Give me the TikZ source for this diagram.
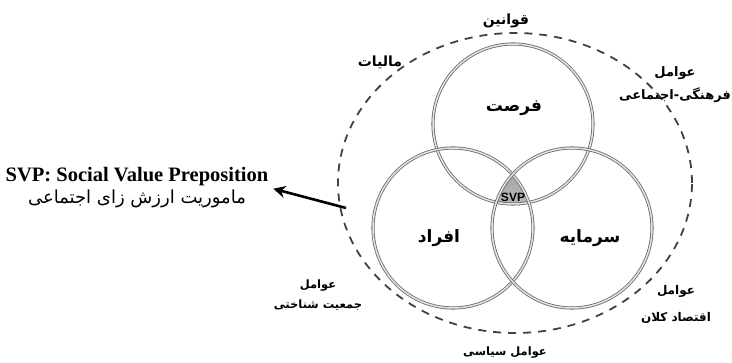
\documentclass[tikz,border=0pt]{standalone}
\usepackage{fontspec}
\setmainfont{Liberation Serif}
\newfontfamily\fa[Script=Arabic]{DejaVu Sans}
\newfontfamily\lsans{Liberation Sans}
\TeXXeTstate=1
\usepackage{tikz}
\usetikzlibrary{arrows.meta}
\definecolor{ring}{RGB}{105, 105, 110}
\definecolor{dash}{RGB}{65, 65, 65}
\tikzset{
  venn/.style={draw=ring, double=gray!22, double distance=1.5pt, line width=0.8pt},
  outer/.style={draw=dash, line width=1.8pt, dash pattern=on 8pt off 7pt},
  lbl/.style={font=\fa\bfseries\fontsize{#1}{#1}\selectfont, align=center, inner sep=1pt},
  lbl/.default=12,
}

\begin{document}
\begin{tikzpicture}[x=1pt, y=-1pt]
  \useasboundingbox (0, 0) rectangle (732, 363);

  % Centres
  \coordinate (top) at (513, 124);
  \coordinate (left) at (453, 228);
  \coordinate (right) at (572, 228);
  \coordinate (mid) at (515, 183);

  % SVP core
  \begin{scope}
    \clip (top) circle [radius=80pt];
    \clip (left) circle [radius=80pt];
    \shade [top color=gray!80, bottom color=gray!15] (right) circle [radius=80pt];
  \end{scope}

  % Circles
  \draw [venn] (top) circle [radius=80pt];
  \draw [venn] (left) circle [radius=80pt];
  \draw [venn] (right) circle [radius=80pt];

  % Environment
  \draw [outer] (mid) ellipse [x radius=177pt, y radius=150pt];

  \node [lbl=17] (forsat) at (514, 108) {\beginR فرصت\endR};
  \node [lbl=17] (afrad) at (439, 238) {\beginR افراد\endR};
  \node [lbl=17] (sarmaye) at (590, 238) {\beginR سرمایه\endR};
  \node [font=\lsans\bfseries\fontsize{12}{13}\selectfont, inner sep=0pt] (svp) at (513, 197) {SVP};

  % Factors
  \node [lbl=14] (ghavanin) at (506, 21) {\beginR قوانین\endR};
  \node [lbl=14] (maliat) at (380, 62) {\beginR مالیات\endR};
  \node [lbl=13] (farhangi) at (675, 85) {\beginR عوامل\endR\\[7pt]\beginR فرهنگی-اجتماعی\endR};
  \node [lbl=11.5] (jamiat) at (318, 295) {\beginR عوامل\endR\\[8pt]\beginR جمعیت شناختی\endR};
  \node [lbl=12] (eghtesad) at (676, 304) {\beginR عوامل\endR\\[14pt]\beginR اقتصاد کلان\endR};
  \node [lbl=11.5] (siasi) at (505, 353) {\beginR عوامل سیاسی\endR};

  % Legend
  \node [align=center, inner sep=2pt] (legend) at (137, 188)
    {\bfseries\fontsize{20.5}{24}\selectfont SVP: Social Value Preposition\\[3pt]
     {\fa\fontsize{18}{20}\selectfont\beginR ماموریت ارزش زای اجتماعی\endR}};
  \coordinate (tail) at (346, 208);
  \draw [line width=2.6pt, -{Stealth[length=12pt, width=12pt]}, shorten >=3pt] (tail) -- (legend.east);
\end{tikzpicture}
\end{document}
